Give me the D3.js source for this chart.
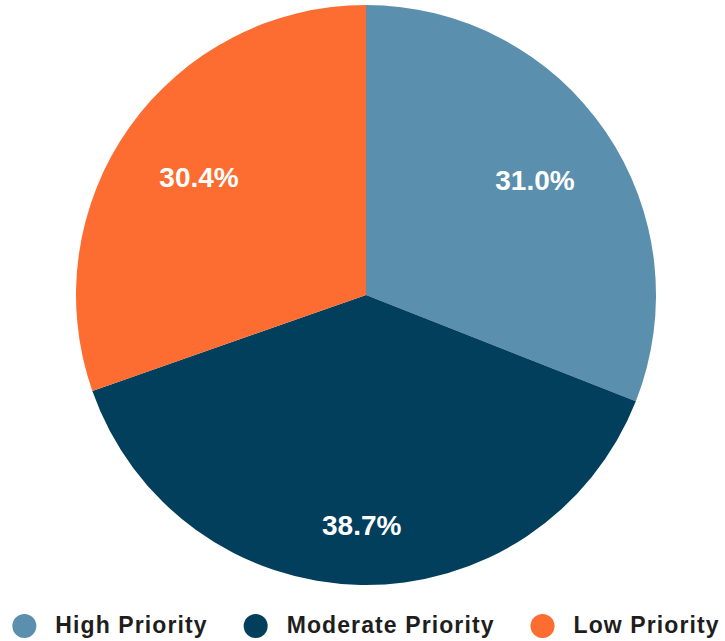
<!DOCTYPE html>
<html>
<head>
<meta charset="utf-8">
<script src="https://cdn.jsdelivr.net/npm/d3@7"></script>
<style>
  html, body { margin: 0; padding: 0; background: #ffffff; }
  svg { display: block; }
</style>
</head>
<body>
<svg id="chart" width="725" height="641"></svg>
<script>
// Priority breakdown (percent of total)
const categories = ["High Priority", "Moderate Priority", "Low Priority"];
const values = [31.0, 38.7, 30.4];
const colors = ["#5a8fae", "#023f5c", "#fd6c30"];

const width = 725, height = 641;
const cx = 366, cy = 295, radius = 290;

const svg = d3.select("#chart");

const color = d3.scaleOrdinal().domain(categories).range(colors);

const pie = d3.pie().sort(null).value(d => d.value);
const data = pie(categories.map((c, i) => ({ name: c, value: values[i] })));

const arc = d3.arc().innerRadius(0).outerRadius(radius);

const g = svg.append("g").attr("transform", `translate(${cx},${cy})`);

g.selectAll("path.slice")
  .data(data)
  .join("path")
  .attr("class", "slice")
  .attr("d", arc)
  .attr("fill", d => color(d.data.name));

// Percentage labels: pushed outward along the mid-angle until the
// far corner of the text box reaches a fixed fraction of the radius.
const labelLimit = radius * 0.84;
const labels = g.selectAll("text.pct")
  .data(data)
  .join("text")
  .attr("class", "pct")
  .attr("text-anchor", "middle")
  .attr("dominant-baseline", "central")
  .attr("fill", "#ffffff")
  .style("font-family", "'Liberation Sans', Arial, sans-serif")
  .style("font-weight", "bold")
  .style("font-size", "28px")
  .text(d => d.data.value.toFixed(1) + "%");

labels.each(function(d) {
  const bb = this.getBBox();
  const w = bb.width, h = 21;
  const a = (d.startAngle + d.endAngle) / 2;
  const sx = Math.sin(a), sy = -Math.cos(a);
  const b = Math.abs(sx) * w / 2 + Math.abs(sy) * h / 2;
  const c = (w * w + h * h) / 4 - labelLimit * labelLimit;
  const dist = -b + Math.sqrt(b * b - c);
  d3.select(this).attr("x", sx * dist).attr("y", sy * dist + 1);
});

// Legend along the bottom: dot, label, then a fixed gap to the next dot
const legend = svg.append("g").attr("class", "legend");
const dotR = 12, textGap = 31, itemGap = 48;
const items = legend.selectAll("g.item")
  .data(categories)
  .join("g")
  .attr("class", "item");

items.append("circle")
  .attr("r", dotR)
  .attr("cy", 0)
  .attr("fill", d => color(d));

items.append("text")
  .attr("x", textGap)
  .attr("y", 7)
  .attr("fill", "#1e1e1e")
  .style("font-family", "'Liberation Sans', Arial, sans-serif")
  .style("font-weight", "bold")
  .style("font-size", "23px")
  .style("letter-spacing", "1.1px")
  .text(d => d);

let x = 0;
let end = 0;
items.each(function() {
  const t = d3.select(this).select("text").node();
  const w = t.getComputedTextLength();
  d3.select(this).attr("transform", `translate(${x},0)`);
  end = x + textGap + w;
  x = end + itemGap;
});
const left = -dotR;
const totalW = end - left;
legend.attr("transform", `translate(${cx - totalW / 2 - left},626)`);
</script>
</body>
</html>
